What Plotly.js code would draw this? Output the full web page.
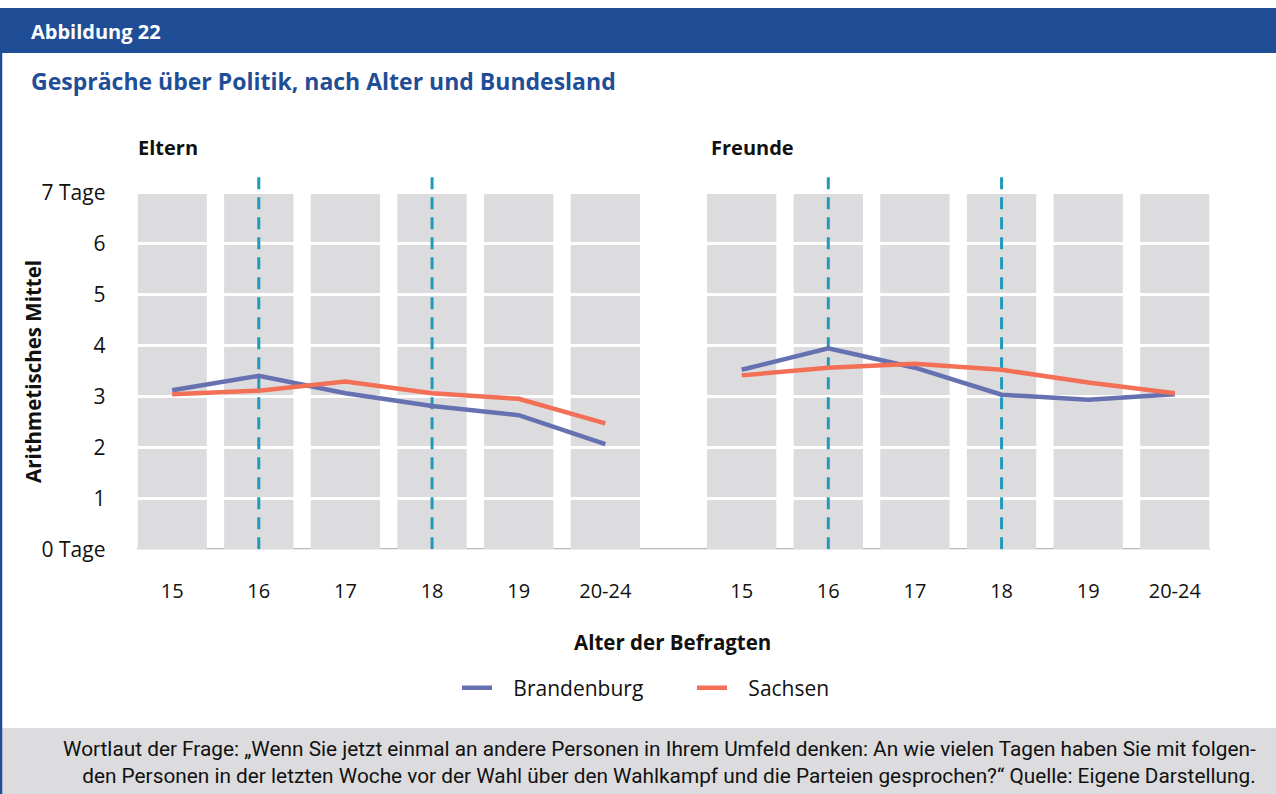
<!DOCTYPE html>
<html><head><meta charset="utf-8">
<script src="https://cdn.plot.ly/plotly-3.0.1.min.js"></script>
<style>html,body{margin:0;padding:0;background:#fff}#c{width:1276px;height:794px}</style>
</head><body><div id="c"></div>
<script>
const categories = ['15','16','17','18','19','20-24'];
const elternBrandenburg = [3.12, 3.40, 3.06, 2.81, 2.63, 2.06];
const elternSachsen     = [3.04, 3.11, 3.29, 3.06, 2.95, 2.47];
const freundeBrandenburg = [3.52, 3.94, 3.56, 3.03, 2.93, 3.04];
const freundeSachsen     = [3.41, 3.56, 3.64, 3.52, 3.27, 3.06];
const yTickVals = [0,1,2,3,4,5,6,7];
const yTickText = ['0 Tage','1','2','3','4','5','6','7 Tage'];
const markedAges = ['16','18'];
const seriesNames = ['Brandenburg','Sachsen'];

const W = 1276, H = 794;
const px = v => v / W, py = v => 1 - v / H;
const BLUE = '#6571b0', ORANGE = '#f36f56', TEAL = '#2199bb', COL = '#dcdcde', NAVY = '#1f4e96';
const FONT = 'Open Sans, Noto Sans, sans-serif';
const NARROW = 'Liberation Sans Narrow, Roboto, sans-serif';
const PAD = '\u00a0\u00a0\u00a0';

const idx = categories.map((c,i)=>i);
const traces = [
  {x: idx, y: elternBrandenburg, xaxis:'x', yaxis:'y', name:PAD+seriesNames[0], mode:'lines', line:{color:BLUE, width:4.5}, legendgroup:'b'},
  {x: idx, y: elternSachsen, xaxis:'x', yaxis:'y', name:PAD+seriesNames[1], mode:'lines', line:{color:ORANGE, width:4.5}, legendgroup:'s'},
  {x: idx, y: freundeBrandenburg, xaxis:'x2', yaxis:'y2', name:seriesNames[0], mode:'lines', line:{color:BLUE, width:4.5}, legendgroup:'b', showlegend:false},
  {x: idx, y: freundeSachsen, xaxis:'x2', yaxis:'y2', name:seriesNames[1], mode:'lines', line:{color:ORANGE, width:4.5}, legendgroup:'s', showlegend:false}
];

const shapes = [];
shapes.push({type:'rect', xref:'paper', yref:'paper', x0:0, x1:1, y0:py(53), y1:py(8), fillcolor:NAVY, line:{width:0}, layer:'below'});
shapes.push({type:'rect', xref:'paper', yref:'paper', x0:0, x1:1, y0:0, y1:py(728), fillcolor:COL, line:{width:0}, layer:'below'});
shapes.push({type:'line', xref:'paper', yref:'paper', x0:px(1), x1:px(1), y0:0, y1:py(53), line:{color:NAVY, width:2.5}, layer:'above'});
['x','x2'].forEach((xr, k) => {
  const yr = k === 0 ? 'y' : 'y2';
  idx.forEach(i => {
    shapes.push({type:'rect', xref:xr, yref:yr, x0:i-0.4, x1:i+0.4, y0:0, y1:7, fillcolor:COL, line:{width:0}, layer:'below'});
  });
  markedAges.forEach(a => {
    const i = categories.indexOf(a);
    shapes.push({type:'line', xref:xr, yref:yr, x0:i, x1:i, y0:0, y1:7.35, line:{color:TEAL, width:3, dash:'12px,8px'}, layer:'between'});
  });
});
shapes.push({type:'line', xref:'paper', yref:'y', x0:px(137), x1:px(1210), y0:0, y1:0, line:{color:'#b9b9bb', width:2.5}, layer:'between'});

const axX = d => ({domain:d, type:'linear', range:[-0.4, 5.4], tickvals: idx, ticktext: categories, showgrid:false, zeroline:false, showline:false,
  tickfont:{family:FONT, size:20, color:'#111'}, ticks:'', ticklabelstandoff:28, fixedrange:true});
const axY = (showLabels) => ({domain:[py(549.3), py(174.4)], range:[0, 7.35], tickvals:yTickVals, ticktext:yTickText, showticklabels:showLabels,
  showgrid:true, gridcolor:'#ffffff', gridwidth:3, zeroline:false, showline:false, ticks:'',
  tickfont:{family:FONT, size:21, color:'#111'}, ticklabelstandoff:31, fixedrange:true});

const layout = {
  width: W, height: H, margin:{l:0, r:0, t:0, b:0},
  paper_bgcolor:'#ffffff', plot_bgcolor:'rgba(0,0,0,0)',
  xaxis: axX([px(137.5), px(640)]),
  xaxis2: axX([px(707), px(1209.5)]),
  yaxis: axY(true),
  yaxis2: Object.assign(axY(false), {anchor:'x2'}),
  showlegend: true,
  legend: {orientation:'h', x:px(457), xanchor:'left', y:py(688), yanchor:'middle', entrywidth:190, itemwidth:30,
    font:{family:FONT, size:21, color:'#111'}, bgcolor:'rgba(0,0,0,0)', tracegroupgap:0},
  shapes: shapes,
  annotations: [
    {text:'<b>Abbildung 22</b>', xref:'paper', yref:'paper', x:px(29), y:py(31), xanchor:'left', yanchor:'middle', showarrow:false, font:{family:FONT, size:20, color:'#ffffff'}},
    {text:'<b>Gespräche über Politik, nach Alter und Bundesland</b>', xref:'paper', yref:'paper', x:px(29), y:py(81), xanchor:'left', yanchor:'middle', showarrow:false, font:{family:FONT, size:23, color:NAVY}},
    {text:'<b>Eltern</b>', xref:'paper', yref:'paper', x:px(136), y:py(147), xanchor:'left', yanchor:'middle', showarrow:false, font:{family:FONT, size:20, color:'#111'}},
    {text:'<b>Freunde</b>', xref:'paper', yref:'paper', x:px(709), y:py(147), xanchor:'left', yanchor:'middle', showarrow:false, font:{family:FONT, size:20, color:'#111'}},
    {text:'<b>Arithmetisches Mittel</b>', xref:'paper', yref:'paper', x:px(33), y:py(372), xanchor:'center', yanchor:'middle', textangle:-90, showarrow:false, font:{family:FONT, size:20.5, color:'#111'}},
    {text:'<b>Alter der Befragten</b>', xref:'paper', yref:'paper', x:px(672), y:py(642), xanchor:'center', yanchor:'middle', showarrow:false, font:{family:FONT, size:20.5, color:'#111'}},
    {text:'Wortlaut der Frage: „Wenn Sie jetzt einmal an andere Personen in Ihrem Umfeld denken: An wie vielen Tagen haben Sie mit folgen-<br>den Personen in der letzten Woche vor der Wahl über den Wahlkampf und die Parteien gesprochen?“ Quelle: Eigene Darstellung.',
      xref:'paper', yref:'paper', x:px(1258), y:py(762), xanchor:'right', yanchor:'middle', align:'right', showarrow:false, font:{family:NARROW, size:20.8, color:'#111'}}
  ]
};
Plotly.newPlot('c', traces, layout, {displayModeBar:false, staticPlot:true});
</script></body></html>
